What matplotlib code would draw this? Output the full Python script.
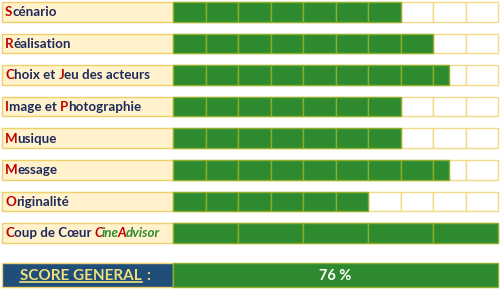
import matplotlib
matplotlib.use("Agg")
import matplotlib.pyplot as plt
from matplotlib.patches import Rectangle

# critères et notes (sur 10 cases)
criteres = [
    [("S", "red"), ("cénario", "navy")],
    [("R", "red"), ("éalisation", "navy")],
    [("C", "red"), ("hoix et ", "navy"), ("J", "red"), ("eu des acteurs", "navy")],
    [("I", "red"), ("mage et ", "navy"), ("P", "red"), ("hotographie", "navy")],
    [("M", "red"), ("usique", "navy")],
    [("M", "red"), ("essage", "navy")],
    [("O", "red"), ("riginalité", "navy")],
]
notes = [7, 8, 8.5, 7, 7, 8.5, 6]
nb_cases = 10

coup_label = [("C", "red"), ("oup de Cœur ", "navy"), ("C", "red_i"), ("ine", "green_i"),
              ("A", "red_i"), ("dvisor", "green_i")]
coup_note = 5
coup_cases = 5

score_general = 76

# couleurs
c_red = "#C00000"
c_navy = "#1F2A5C"
c_green_txt = "#2E8B2E"
c_bar = "#2E8A2E"
c_bar_edge = "#8CAF2C"
c_label_bg = "#FFF2CC"
c_gold = "#EFD06A"
c_cell_edge = "#F2DA86"
c_blue = "#1F4E79"
c_score_txt = "#F2DF7C"

police = "Lato"

fig = plt.figure(figsize=(5, 2.95), dpi=100)
ax = fig.add_axes([0, 0, 1, 1])
ax.set_xlim(0, 500)
ax.set_ylim(295, 0)
ax.axis("off")

x_lab, w_lab = 2, 171
x0, x1 = 173, 498
row_h = 19.5
pas = 31.6
y_first = 2

fig.canvas.draw()
renderer = fig.canvas.get_renderer()


def texte_multi(x, y, morceaux, size=9.6):
    for txt, col in morceaux:
        italique = col.endswith("_i")
        base = col.replace("_i", "")
        color = {"red": c_red, "navy": c_navy, "green": c_green_txt}[base]
        t = ax.text(x, y, txt, color=color, fontsize=size, fontweight="bold",
                    fontstyle="italic" if italique else "normal",
                    va="center", ha="left", family=police, zorder=5)
        bb = t.get_window_extent(renderer=renderer)
        x = ax.transData.inverted().transform((bb.x1, 0))[0]
        if italique:
            x -= 1.0


def ligne(i, morceaux, note, n):
    top = y_first + pas * i
    ax.add_patch(Rectangle((x_lab, top), w_lab, row_h, facecolor=c_label_bg,
                           edgecolor=c_gold, lw=1))
    w = (x1 - x0) / n
    for k in range(n):
        ax.add_patch(Rectangle((x0 + k * w, top), w, row_h, facecolor="white",
                               edgecolor=c_cell_edge, lw=1))
    for k in range(n):
        frac = min(1, max(0, note - k))
        if frac > 0:
            ax.add_patch(Rectangle((x0 + k * w, top), w * frac, row_h, facecolor=c_bar,
                                   edgecolor=c_bar_edge, lw=1))
    texte_multi(5, top + row_h / 2 + 0.5, morceaux)


for i, (m, n) in enumerate(zip(criteres, notes)):
    ligne(i, m, n, nb_cases)
ligne(len(criteres), coup_label, coup_note, coup_cases)

# score général
top = 263
h = 24
ax.add_patch(Rectangle((x_lab, top), w_lab, h, facecolor=c_blue, edgecolor=c_gold, lw=1))
ax.add_patch(Rectangle((x0, top), x1 - x0, h, facecolor=c_bar, edgecolor=c_bar_edge, lw=1))
t = ax.text(20, top + h / 2 + 0.5, "SCORE GENERAL", color=c_score_txt, fontsize=11,
            fontweight="bold", va="center", ha="left", family=police)
bb = t.get_window_extent(renderer=renderer)
inv = ax.transData.inverted()
xa, ya = inv.transform((bb.x0, bb.y0))
xb, _ = inv.transform((bb.x1, bb.y0))
ax.plot([xa, xb], [ya - 0.5, ya - 0.5], color=c_score_txt, lw=1.2)
ax.text(xb + 5, top + h / 2 + 0.5, ":", color=c_score_txt, fontsize=11,
        fontweight="bold", va="center", ha="left", family=police)
ax.text(335, top + h / 2 + 0.5, f"{score_general} %", color="white", fontsize=10.5,
        fontweight="bold", va="center", ha="center", family=police)

fig.savefig("out.png", dpi=100)
